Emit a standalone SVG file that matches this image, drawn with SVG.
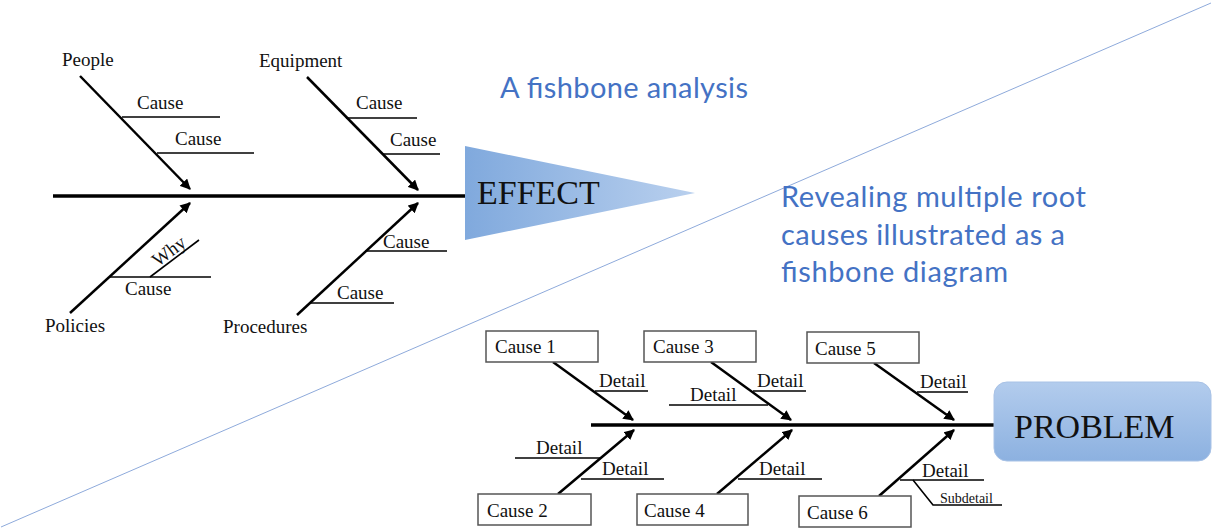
<svg xmlns="http://www.w3.org/2000/svg" width="1212" height="532" viewBox="0 0 1212 532">
<style>
.t{font-family:"Liberation Serif","Times New Roman",serif;font-size:19px;fill:#111}
.big{font-family:"Liberation Serif","Times New Roman",serif;font-size:34px;fill:#111}
.sub{font-family:"Liberation Serif","Times New Roman",serif;font-size:14px;fill:#111}
.blue{font-family:Lato,"Open Sans",sans-serif;font-size:29px;fill:#4472c4}
.spine{stroke:#000;stroke-width:3.5;fill:none}
.bone{stroke:#000;stroke-width:2.5;fill:none;marker-end:url(#ah)}
.rib{stroke:#000;stroke-width:1.6;fill:none}
.box{fill:#fff;stroke:#555;stroke-width:1.5}
</style>
<defs>
<marker id="ah" viewBox="0 0 10 10" refX="9" refY="5" markerWidth="4.2" markerHeight="4.2" orient="auto" markerUnits="strokeWidth">
<path d="M0,0 L10,5 L0,10 z" fill="#000"/>
</marker>
<linearGradient id="gTri" x1="0" y1="0" x2="1" y2="0">
<stop offset="0" stop-color="#80a9dd"/>
<stop offset="1" stop-color="#b9d0ee"/>
</linearGradient>
<linearGradient id="gBox" x1="0" y1="0" x2="0" y2="1">
<stop offset="0" stop-color="#b3cced"/>
<stop offset="1" stop-color="#8cb1e0"/>
</linearGradient>
</defs>

<line id="divider" x1="1" y1="527" x2="1211" y2="3" stroke="#8eaadb" stroke-width="1"/>

<g id="connectors">
<!-- top fishbone -->
<line class="spine" x1="53" y1="196" x2="466" y2="196"/>
<line class="bone" x1="80" y1="76" x2="190" y2="189"/>
<line class="bone" x1="307" y1="77" x2="418" y2="190"/>
<line class="bone" x1="70" y1="313" x2="190" y2="203"/>
<line class="bone" x1="297" y1="315" x2="418" y2="203"/>
<line class="rib" x1="122" y1="117" x2="220" y2="117"/>
<line class="rib" x1="157" y1="153" x2="254" y2="153"/>
<line class="rib" x1="346" y1="118" x2="417" y2="118"/>
<line class="rib" x1="382" y1="154" x2="440" y2="154"/>
<line class="rib" x1="110" y1="277" x2="211" y2="277"/>
<line class="rib" x1="150" y1="277" x2="199" y2="240"/>
<line class="rib" x1="365" y1="251" x2="447" y2="251"/>
<line class="rib" x1="310" y1="303" x2="394" y2="303"/>
<!-- bottom fishbone -->
<line class="spine" x1="591" y1="425" x2="996" y2="425"/>
<line class="bone" x1="553" y1="362" x2="633" y2="420"/>
<line class="bone" x1="711" y1="362" x2="791" y2="420"/>
<line class="bone" x1="874" y1="363" x2="954" y2="420"/>
<line class="bone" x1="558" y1="494" x2="634" y2="430"/>
<line class="bone" x1="717" y1="494" x2="792" y2="430"/>
<line class="bone" x1="879" y1="496" x2="954" y2="430"/>
<line class="rib" x1="595" y1="391" x2="648" y2="391"/>
<line class="rib" x1="753" y1="391" x2="806" y2="391"/>
<line class="rib" x1="669" y1="405" x2="768" y2="405"/>
<line class="rib" x1="917" y1="392" x2="968" y2="392"/>
<line class="rib" x1="515" y1="458" x2="600" y2="458"/>
<line class="rib" x1="581" y1="479" x2="664" y2="479"/>
<line class="rib" x1="738" y1="479" x2="822" y2="479"/>
<line class="rib" x1="900" y1="480" x2="984" y2="480"/>
<polyline class="rib" points="913,480 933,505 1002,505"/>
</g>

<g id="effect">
<polygon points="465,146 695,193 465,240" fill="url(#gTri)"/>
<text class="big" x="477" y="204" font-size="33">EFFECT</text>
</g>

<g id="people"><text class="t" x="62" y="66">People</text></g>
<g id="equipment"><text class="t" x="259" y="67">Equipment</text></g>
<g id="policies"><text class="t" x="45" y="332">Policies</text></g>
<g id="procedures"><text class="t" x="223" y="333">Procedures</text></g>
<g id="top-causes">
<text class="t" x="137" y="109">Cause</text>
<text class="t" x="175" y="145">Cause</text>
<text class="t" x="356" y="109">Cause</text>
<text class="t" x="390" y="146">Cause</text>
<text class="t" x="125" y="295">Cause</text>
<text class="t" x="383" y="248">Cause</text>
<text class="t" x="337" y="299">Cause</text>
<text class="t" transform="translate(174.5,258.5) rotate(-37)" x="0" y="-3" text-anchor="middle">Why</text>
</g>

<g id="title"><text class="blue" x="500" y="98" textLength="248">A fishbone analysis</text></g>
<g id="caption">
<text class="blue" x="781" y="207" textLength="305">Revealing multiple root</text>
<text class="blue" x="781" y="245" textLength="284">causes illustrated as a</text>
<text class="blue" x="781" y="282" textLength="227">fishbone diagram</text>
</g>

<g id="cause1"><rect class="box" x="486" y="331" width="112" height="31"/><text class="t" x="495" y="353">Cause 1</text></g>
<g id="cause3"><rect class="box" x="644" y="331" width="112" height="31"/><text class="t" x="653" y="353">Cause 3</text></g>
<g id="cause5"><rect class="box" x="807" y="332" width="112" height="31"/><text class="t" x="815" y="355">Cause 5</text></g>
<g id="cause2"><rect class="box" x="478" y="494" width="113" height="31"/><text class="t" x="487" y="517">Cause 2</text></g>
<g id="cause4"><rect class="box" x="637" y="494" width="111" height="31"/><text class="t" x="644" y="517">Cause 4</text></g>
<g id="cause6"><rect class="box" x="799" y="496" width="112" height="31"/><text class="t" x="807" y="519">Cause 6</text></g>

<g id="details">
<text class="t" x="599" y="387">Detail</text>
<text class="t" x="757" y="387">Detail</text>
<text class="t" x="690" y="401">Detail</text>
<text class="t" x="920" y="388">Detail</text>
<text class="t" x="536" y="454">Detail</text>
<text class="t" x="602" y="475">Detail</text>
<text class="t" x="759" y="475">Detail</text>
<text class="t" x="922" y="477">Detail</text>
<text class="sub" x="940" y="503">Subdetail</text>
</g>

<g id="problem">
<rect x="994" y="382" width="217" height="79" rx="13" fill="url(#gBox)" stroke="#a8c2e6" stroke-width="1"/>
<text class="big" x="1014" y="438">PROBLEM</text>
</g>
</svg>
